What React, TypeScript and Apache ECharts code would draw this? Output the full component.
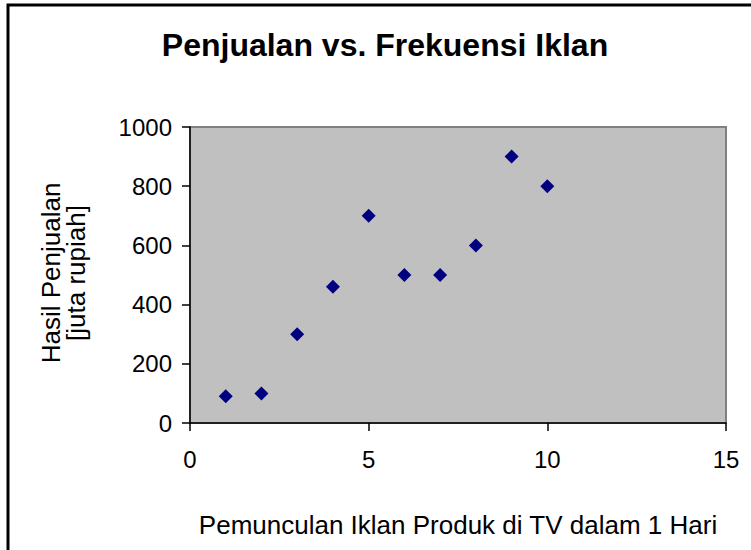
import React, { useEffect, useRef } from "react";
import * as echarts from "echarts";

const frequency = [1, 2, 3, 4, 5, 6, 7, 8, 9, 10];
const sales = [90, 100, 300, 460, 700, 500, 500, 600, 900, 800];
const titleText = "Penjualan vs. Frekuensi Iklan";
const xAxisTitle = "Pemunculan Iklan Produk di TV dalam 1 Hari";
const yAxisTitle = "Hasil Penjualan\n[juta rupiah]";

const FONT = "'Liberation Sans', Arial, sans-serif";

export default function App() {
  const ref = useRef<HTMLDivElement>(null);
  useEffect(() => {
    document.body.style.margin = "0";
    if (!ref.current) return;
    const chart = echarts.init(ref.current, null, { renderer: "svg" });
    const points = frequency.map((x, i) => [x, sales[i]]);
    chart.setOption({
      animation: false,
      backgroundColor: "#ffffff",
      grid: {
        left: 190,
        top: 127,
        right: 25,
        bottom: 127,
        show: true,
        backgroundColor: "#C0C0C0",
        borderColor: "#808080",
        borderWidth: 2,
      },
      xAxis: {
        type: "value",
        min: 0,
        max: 15,
        interval: 5,
        splitLine: { show: false },
        axisLine: { show: true, onZero: false, lineStyle: { color: "#000", width: 1.5 } },
        axisTick: { show: true, inside: false, length: 8, lineStyle: { color: "#000", width: 1.5 } },
        axisLabel: { color: "#000", fontSize: 24, fontFamily: FONT, margin: 24 },
      },
      yAxis: {
        type: "value",
        min: 0,
        max: 1000,
        interval: 200,
        splitLine: { show: false },
        axisLine: { show: true, onZero: false, lineStyle: { color: "#000", width: 1.5 } },
        axisTick: { show: true, inside: false, length: 8, lineStyle: { color: "#000", width: 1.5 } },
        axisLabel: {
          color: "#000",
          fontSize: 24,
          fontFamily: FONT,
          margin: 18,
          formatter: (v: number) => String(v),
        },
      },
      series: [
        {
          type: "scatter",
          data: points,
          symbol: "diamond",
          symbolSize: 14,
          itemStyle: { color: "#000080", opacity: 1 },
        },
      ],
      graphic: [
        {
          type: "rect",
          shape: { x: 8, y: 5, width: 800, height: 600 },
          style: { fill: "none", stroke: "#000", lineWidth: 3 },
          silent: true,
        },
        {
          type: "text",
          x: 385,
          y: 45,
          style: {
            text: titleText,
            fontSize: 32,
            fontWeight: "bold",
            fontFamily: FONT,
            fill: "#000",
            textAlign: "center",
            textVerticalAlign: "middle",
          },
        },
        {
          type: "text",
          x: 458,
          y: 525,
          style: {
            text: xAxisTitle,
            fontSize: 26,
            fontFamily: FONT,
            fill: "#000",
            textAlign: "center",
            textVerticalAlign: "middle",
          },
        },
        {
          type: "text",
          x: 63,
          y: 273,
          rotation: Math.PI / 2,
          style: {
            text: yAxisTitle,
            fontSize: 26,
            lineHeight: 25,
            fontFamily: FONT,
            fill: "#000",
            align: "center",
            verticalAlign: "middle",
            textAlign: "center",
            textVerticalAlign: "middle",
          },
        },
      ],
    });
    return () => chart.dispose();
  }, []);
  return <div ref={ref} style={{ width: 751, height: 550 }} />;
}
